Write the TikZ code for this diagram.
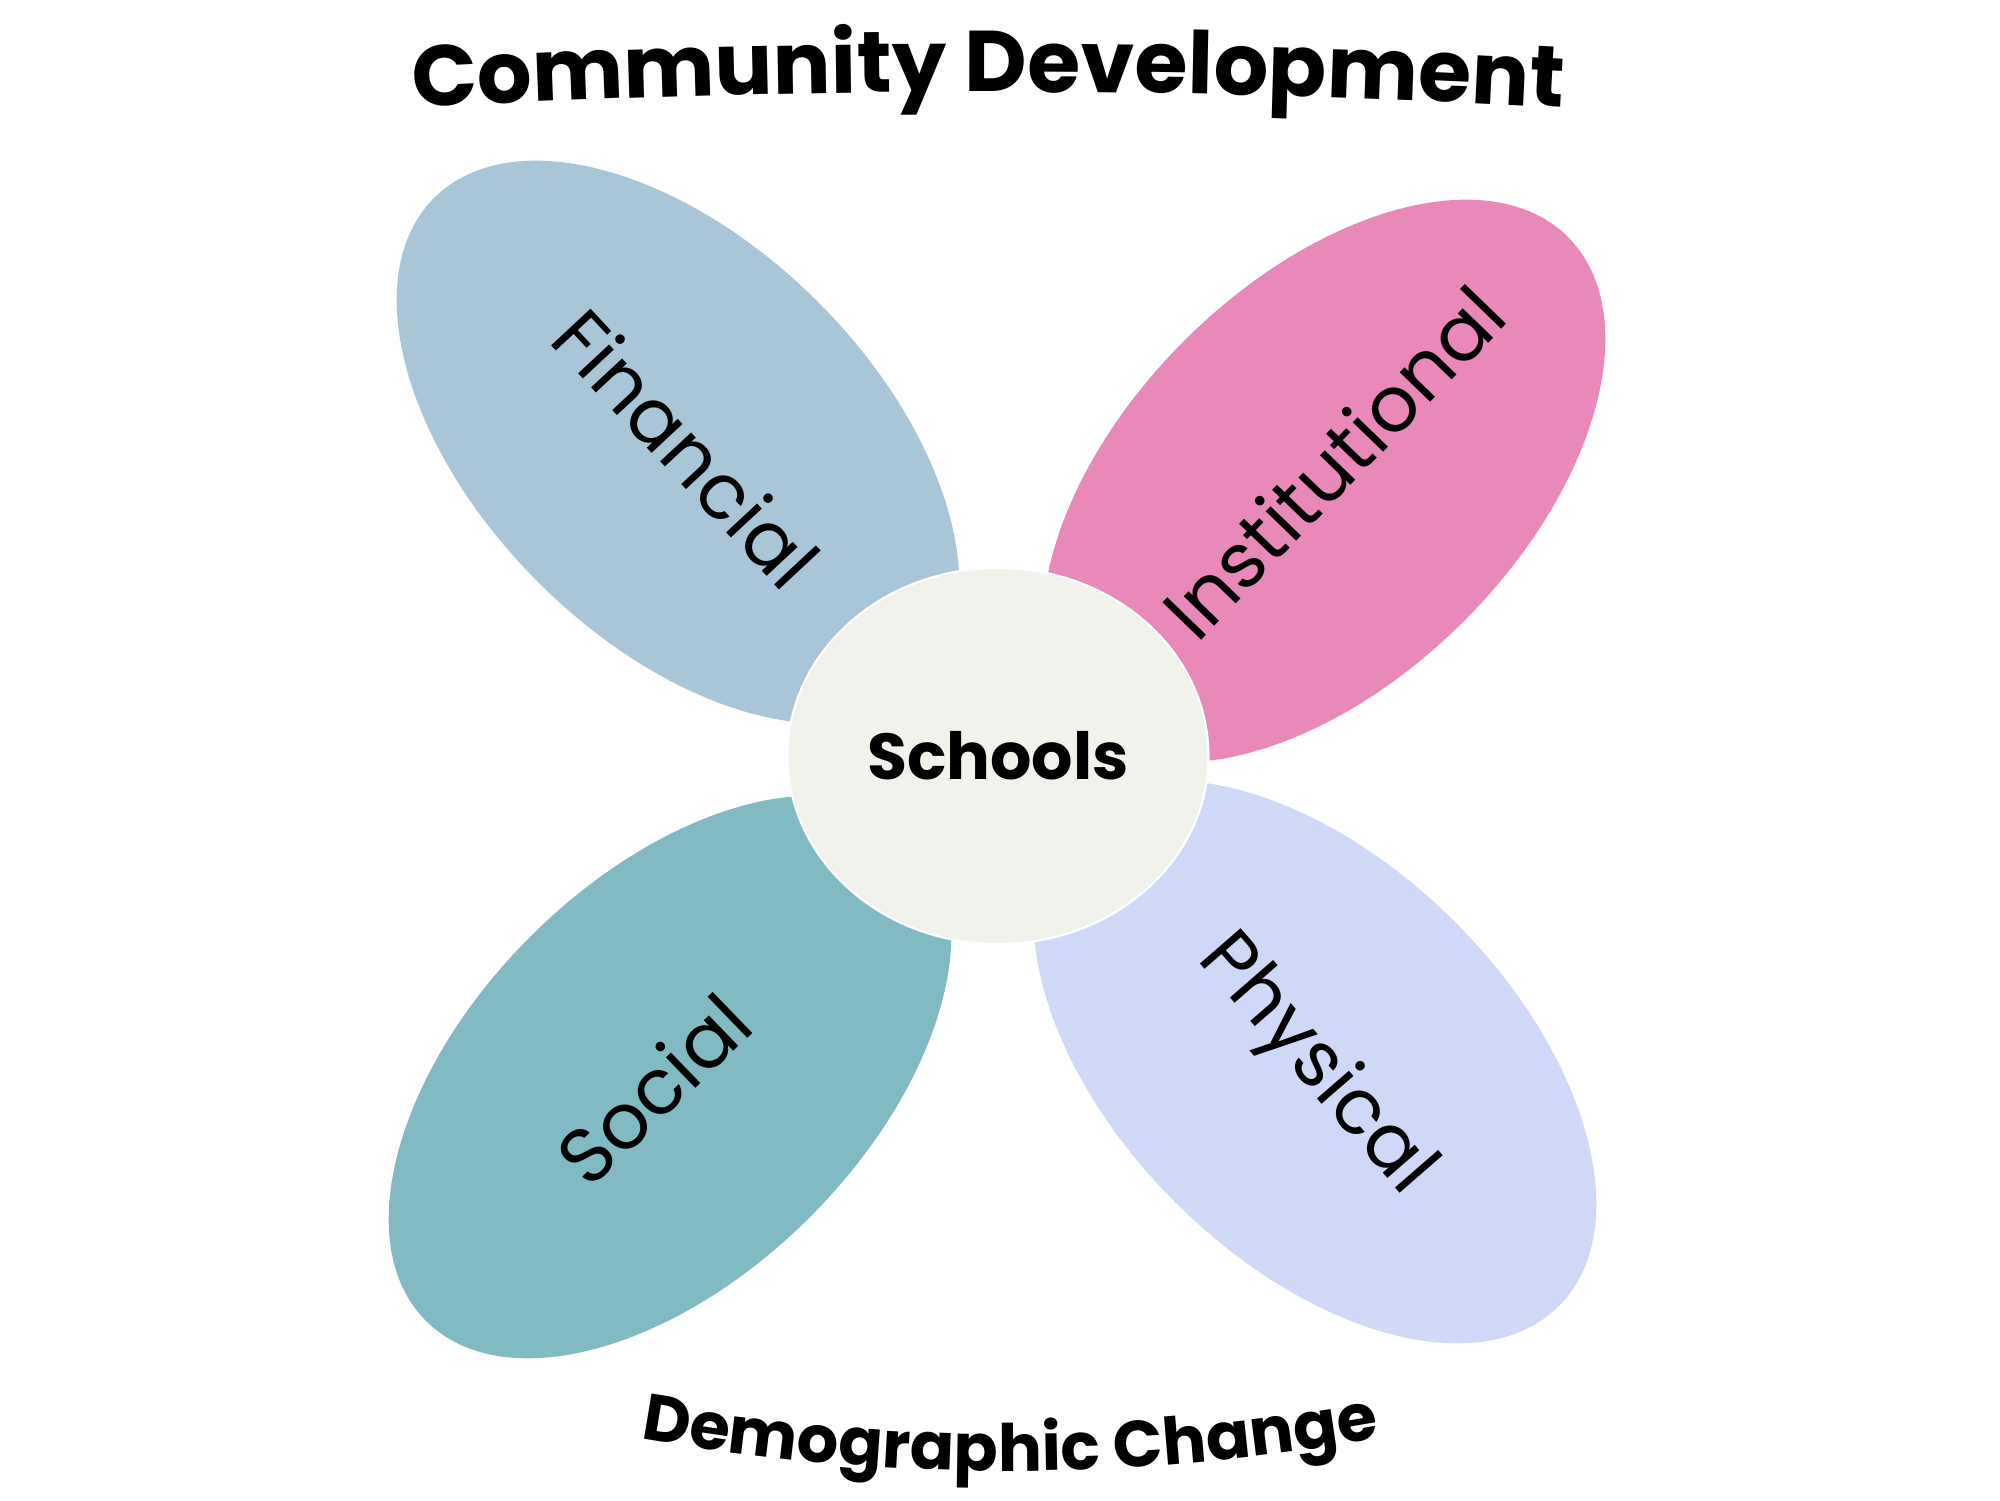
\documentclass[tikz,border=0pt]{standalone}
\usepackage{fontspec}
\setmainfont{Poppins}
\usetikzlibrary{shapes.geometric,decorations.text}
\definecolor{finblue}{RGB}{169,198,217}
\definecolor{instpink}{RGB}{232,137,186}
\definecolor{socteal}{RGB}{130,186,196}
\definecolor{physlav}{RGB}{208,216,248}
\definecolor{hubgrey}{RGB}{242,242,236}
\newcommand\titlefont{\bfseries\fontsize{24.5}{29}\selectfont}
\newcommand\captionfont{\bfseries\fontsize{18.6}{22}\selectfont}

\begin{document}
\begin{tikzpicture}[
  petal/.style={ellipse, minimum width=6.9cm, minimum height=3.96cm, inner sep=0pt},
  petallabel/.style={font=\fontsize{22}{26}\selectfont, inner sep=0pt},
  hub/.style={ellipse, draw=white, line width=0.6pt, fill=hubgrey, minimum width=4.21cm,
    minimum height=3.76cm, font=\bfseries\fontsize{18.5}{22}\selectfont}]
\useasboundingbox (0,0) rectangle (20,15);
% petals
\node[petal, fill=finblue, rotate=-45] (financial) at (6.78,10.58) {};
\node[petal, fill=instpink, rotate=45] (institutional) at (13.24,10.19) {};
\node[petal, fill=socteal, rotate=45] (social) at (6.70,4.23) {};
\node[petal, fill=physlav, rotate=-45] (physical) at (13.15,4.38) {};
\node[petallabel, rotate=-47] (finlabel) at (6.87,10.52) {Financial};
\node[petallabel, rotate=46] (instlabel) at (13.33,10.38) {Institutional};
\node[petallabel, rotate=44] (soclabel) at (6.53,4.11) {Social};
\node[petallabel, rotate=-49] (physlabel) at (13.15,4.34) {Physical};
% centre
\node[hub] (schools) at (9.98,7.44) {Schools};
% curved captions
\path[decorate, decoration={text along path, text align=center,
  text={|\titlefont|Community Development}}]
  (2.88,13.847) .. controls (7.547,14.158) and (12.213,14.158) .. (16.88,13.847);
\path[decorate, decoration={text along path, text align=center,
  text={|\captionfont|Demographic Change}}]
  (5.10,0.89) .. controls (8.433,0.09) and (11.767,0.09) .. (15.10,0.89);
\end{tikzpicture}
\end{document}
